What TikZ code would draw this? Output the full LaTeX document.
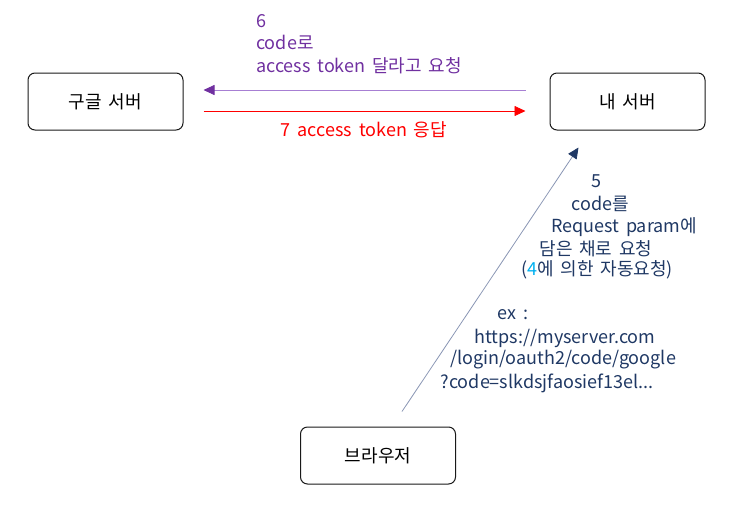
\documentclass[tikz,border=0pt]{standalone}
\usepackage{fontspec}
\setmainfont{Noto Sans CJK KR}[WordSpace=1.7]
\usepackage{xcolor}
\usetikzlibrary{arrows.meta,positioning}
\definecolor{plum}{HTML}{7030A0}
\definecolor{plumlight}{HTML}{A77FD3}
\definecolor{tokred}{HTML}{FF0000}
\definecolor{navy}{HTML}{1F3864}
\definecolor{navylight}{HTML}{8A96B4}
\definecolor{skyblue}{HTML}{00B0F0}
\tikzset{
  serverbox/.style={
    rectangle, rounded corners=7pt, draw=black!90, line width=1pt,
    minimum width=155pt, minimum height=57pt,
    font=\fontsize{18}{21}\selectfont, align=center,
    inner sep=4pt
  },
  flowarrow/.style={
    -{Triangle[length=11pt, width=10pt, color=#1]}, line width=0.8pt
  },
  steptext/.style={
    font=\fontsize{18}{22.5}\selectfont, color=#1, inner sep=0pt
  },
  steptext/.default=navy,
}

\begin{document}
\begin{tikzpicture}[x=1pt, y=-1pt]
  \useasboundingbox (0,0) rectangle (753,523);

  % Servers and browser
  \node[serverbox] (google) at (105.5,101.5) {구글 서버};
  \node[serverbox, right=366pt of google] (mysrv) {내 서버};
  \node[serverbox] (browser) at (378,455.5) {브라우저};

  % Token exchange
  \draw[flowarrow=plum, plumlight, shorten <=24pt, shorten >=20pt]
    ([yshift=11.5pt]mysrv.west) -- ([yshift=11.5pt]google.east);
  \draw[flowarrow=tokred, tokred, shorten <=20pt, shorten >=24pt]
    ([yshift=-9.5pt]google.east) -- ([yshift=-9.5pt]mysrv.west);

  \node[steptext=plum, anchor=west, align=left] (req6) at (256,44)
    {6\\code로\\access token 달라고 요청};
  \node[steptext=tokred] (res7) at (364,130) {7 access token 응답};

  % Redirect with code
  \draw[flowarrow=navy, navylight]
    ([shift={(24pt,15pt)}]browser.north) -- ([shift={(-49pt,-17pt)}]mysrv.south);

  \node[steptext] (l1) at (596,181) {5};
  \node[steptext] (l2) at (600,204) {code를};
  \node[steptext] (l3) at (624,227) {Request param에};
  \node[steptext] (l4) at (596,249) {담은 채로 요청};
  \node[steptext] (l5) at (597,270) {(\textcolor{skyblue}{4}에 의한 자동요청)};
  \node[steptext] (l6) at (513,315) {ex :};
  \node[steptext] (l7) at (565,338) {https://myserver.com};
  \node[steptext] (l8) at (563,360) {/login/oauth2/code/google};
  \node[steptext] (l9) at (547,383) {?code=slkdsjfaosief13el...};
\end{tikzpicture}
\end{document}
